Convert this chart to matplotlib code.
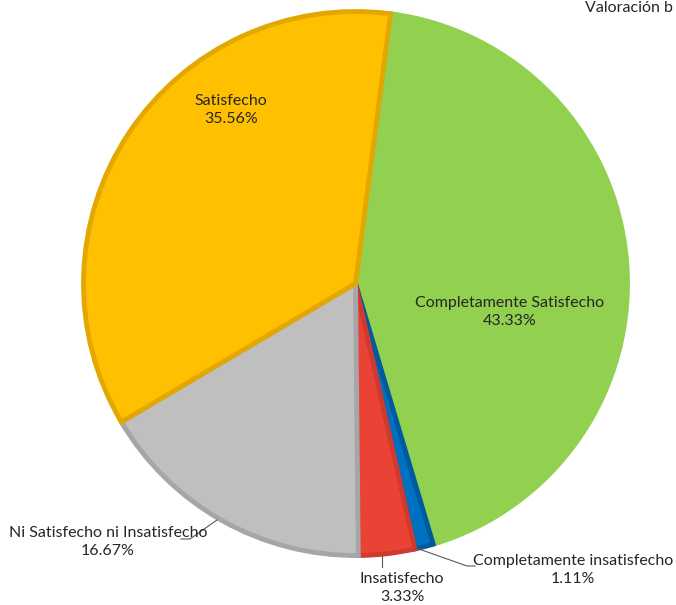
import matplotlib.pyplot as plt

# datos (conteos sobre 90 respuestas)
categorias = ["Completamente Satisfecho", "Completamente insatisfecho", "Insatisfecho",
              "Ni Satisfecho ni Insatisfecho", "Satisfecho"]
valores = [39, 1, 3, 15, 32]
colores = ["#92D050", "#0070C0", "#EA4335", "#BFBFBF", "#FFC000"]
bordes = ["#92D050", "#005A9E", "#D03A2E", "#A6A6A6", "#E3A800"]
titulo = "Valoración b"

W, H = 676, 605
plt.rcParams['font.family'] = ['Lato', 'DejaVu Sans']

fig = plt.figure(figsize=(W / 100, H / 100), dpi=100)
ax = fig.add_axes([0, 0, 1, 1])

def py(y):
    return H - y

wedges, _ = ax.pie(valores, colors=colores, startangle=82.6, counterclock=False,
                   center=(355.5, py(283.5)), radius=272,
                   wedgeprops=dict(linewidth=3.5))
for w, b in zip(wedges, bordes):
    w.set_edgecolor(b)
    w.set_joinstyle('miter')
wedges[0].set_zorder(1)
for w in wedges[1:]:
    w.set_zorder(2)

ax.set_xlim(0, W)
ax.set_ylim(0, H)
ax.set_aspect('equal')
ax.axis('off')

total = sum(valores)
pos_etiquetas = [(510, 312), (573, 570), (402, 588), (108, 542), (231, 110)]
for cat, v, (x, y) in zip(categorias, valores, pos_etiquetas):
    ax.text(x, py(y), f"{cat}\n{100 * v / total:.2f}%", ha='center', va='center',
            fontsize=11.5, color='#262626', linespacing=1.3, zorder=5)

# lineas guia
gris = '#595959'
ax.plot([217, 190, 181], [py(520), py(539), py(539)], color=gris, lw=0.8, zorder=4)
ax.plot([382, 382], [py(556), py(567)], color=gris, lw=0.8, zorder=4)
ax.plot([416, 467, 475], [py(548), py(566), py(566)], color=gris, lw=0.8, zorder=4)

ax.text(585, py(8), titulo, ha='left', va='center', fontsize=11.5, color='#262626')

fig.savefig("out.png", dpi=100)
